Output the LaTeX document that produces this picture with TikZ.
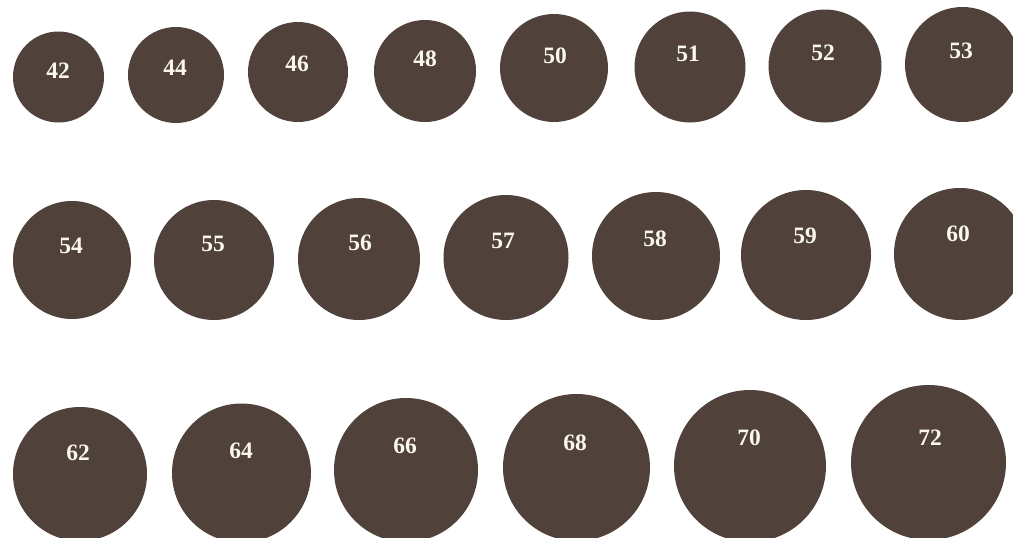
\documentclass[tikz,border=0pt]{standalone}
\usepackage{fontspec}
\setmainfont{Liberation Serif}
\definecolor{disccol}{RGB}{80,66,58}
\definecolor{txtcol}{RGB}{250,246,240}
\begin{document}
\begin{tikzpicture}[x=1pt,y=-1pt,
  disc/.style={circle, fill=disccol, draw=none, inner sep=0pt},
  lbl/.style={text=txtcol, font=\fontsize{23.5}{25}\selectfont\bfseries, inner sep=0pt, anchor=base}]
\useasboundingbox (0,0) rectangle (1013,538);
\clip (0,0) rectangle (1013,538);
\fill[white] (0,0) rectangle (1013,538);
\foreach \n/\cx/\cy/\r/\tx/\ty in {
  42/58.5/77/45.5/58/70,
  44/176/75/48/175/67,
  46/298/72/50/297/63,
  48/425/71/51/425/58,
  50/554/68/54/555/55,
  51/690/67/55.5/688/53,
  52/825/66/56.5/823/52,
  53/962.5/64.5/57.5/961/50,
  54/72/260/59/71/245,
  55/214/260/60/213/243,
  56/359/259/61/360/242,
  57/506/257.5/62.5/503/240,
  58/656/256/64/655/238,
  59/806/255/65/805/235,
  60/960/254/66/958/233,
  62/80/474/67/78/452,
  64/241.5/473/69.5/241/450,
  66/406/470/72/405/445,
  68/576.5/467.5/73.5/575/442,
  70/750/466/76/749/437,
  72/928.5/462.5/77.5/930/437}
{
  \node[disc, minimum size={2*\r pt}] (c\n) at (\cx,\cy) {};
  \node[lbl] (t\n) at (\tx,\ty+8.5) {\n};
}
\end{tikzpicture}
\end{document}
